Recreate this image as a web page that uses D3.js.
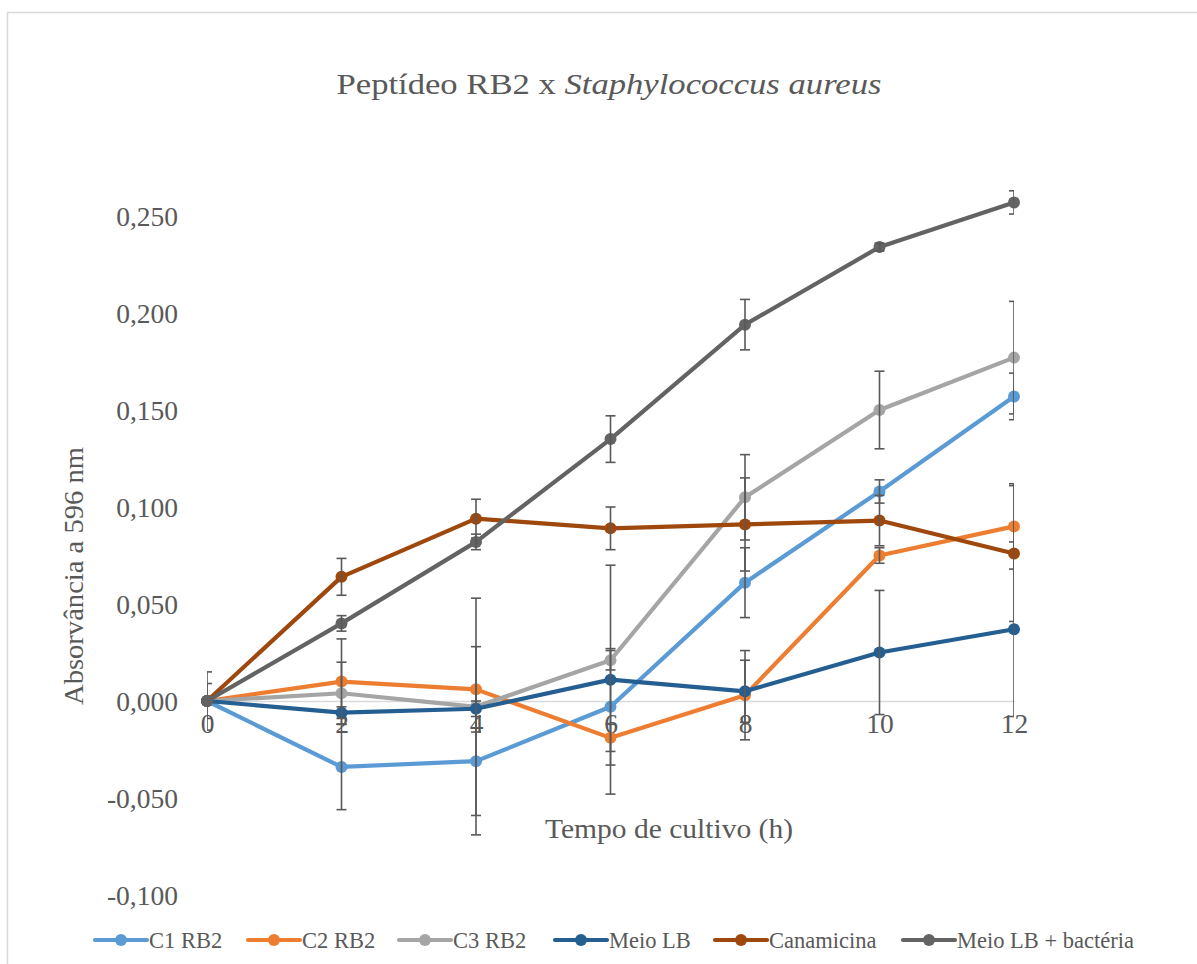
<!DOCTYPE html>
<html>
<head>
<meta charset="utf-8">
<script src="https://cdn.jsdelivr.net/npm/d3@7/dist/d3.min.js"></script>
<style>
  html, body { margin: 0; padding: 0; background: #ffffff; }
  svg { display: block; }
</style>
</head>
<body>
<svg id="chart" width="1197" height="964"></svg>
<script>
// Culture time (h)
const hours = [0, 2, 4, 6, 8, 10, 12];

// Mean absorbance at 596 nm and error (±) per series
const c1Rb2      = [0, -0.034, -0.031, -0.003, 0.061, 0.108, 0.157];
const c1Rb2Err   = [0.009, 0.022, 0.038, 0.030, 0.018, 0.006, 0.012];
const c2Rb2      = [0, 0.010, 0.006, -0.019, 0.003, 0.075, 0.090];
const c2Rb2Err   = [0, 0.022, 0.022, 0.007, 0.023, 0.004, 0.022];
const c3Rb2      = [0, 0.004, -0.003, 0.021, 0.105, 0.150, 0.177];
const c3Rb2Err   = [0, 0.016, 0.056, 0.005, 0.022, 0.020, 0.029];
const meioLb     = [0, -0.006, -0.004, 0.011, 0.005, 0.025, 0.037];
const meioLbErr  = [0.015, 0.003, 0.004, 0.059, 0.016, 0.032, 0.045];
const canamicina    = [0, 0.064, 0.094, 0.089, 0.091, 0.093, 0.076];
const canamicinaErr = [0, 0.0095, 0.010, 0.011, 0.024, 0.013, 0.035];
const meioLbBact    = [0, 0.040, 0.082, 0.135, 0.194, 0.234, 0.257];
const meioLbBactErr = [0, 0.004, 0.004, 0.012, 0.013, 0.002, 0.006];

const seriesNames  = ["C1 RB2", "C2 RB2", "C3 RB2", "Meio LB", "Canamicina", "Meio LB + bactéria"];
const seriesColors = ["#5b9bd5", "#ed7d31", "#a5a5a5", "#255e91", "#9e480e", "#636363"];
const seriesValues = [c1Rb2, c2Rb2, c3Rb2, meioLb, canamicina, meioLbBact];
const seriesErrors = [c1Rb2Err, c2Rb2Err, c3Rb2Err, meioLbErr, canamicinaErr, meioLbBactErr];

const xTicks = [0, 2, 4, 6, 8, 10, 12];
const yTicks = [-0.1, -0.05, 0, 0.05, 0.1, 0.15, 0.2, 0.25];

const FONT = "'Liberation Serif', Tinos, 'Times New Roman', 'DejaVu Serif', serif";
const TEXT_COLOR = "#595959";

const series = seriesNames.map((name, i) => ({
  name,
  color: seriesColors[i],
  points: hours.map((h, j) => ({ x: h, y: seriesValues[i][j], e: seriesErrors[i][j] }))
}));

const svg = d3.select("#chart");

// Chart frame
svg.append("rect")
  .attr("x", 7.5).attr("y", 12.5)
  .attr("width", 1300).attr("height", 1100)
  .attr("fill", "#ffffff")
  .attr("stroke", "#d9d9d9").attr("stroke-width", 1.5);

const x = d3.scaleLinear().domain([0, 12]).range([207, 1014]);
const y = d3.scaleLinear().domain([-0.1, 0.25]).range([895, 216]);

function styleText(sel, size) {
  return sel.attr("font-family", FONT)
    .style("font-family", FONT)
    .attr("font-size", size)
    .style("font-size", size + "px")
    .attr("fill", TEXT_COLOR)
    .style("fill", TEXT_COLOR);
}

// Title
const title = svg.append("text")
  .attr("x", 609).attr("y", 94)
  .attr("text-anchor", "middle")
  .attr("textLength", 545)
  .attr("lengthAdjust", "spacingAndGlyphs");
styleText(title, 30);
title.append("tspan").text("Peptídeo RB2 x ");
title.append("tspan").style("font-style", "italic").text("Staphylococcus aureus");

// Y axis labels (no axis line, no gridlines)
const fmt = v => d3.format(".3f")(v).replace(".", ",").replace("−", "-");
const yAxis = d3.axisLeft(y).tickValues(yTicks).tickSize(0).tickPadding(0).tickFormat(fmt);
const yG = svg.append("g").attr("transform", "translate(178,0)").call(yAxis)
  .attr("font-family", FONT);
yG.select(".domain").remove();
styleText(yG.selectAll("text").attr("x", 0).attr("dy", "0.35em"), 27.5);

// Horizontal axis line at zero with its labels
const xAxis = d3.axisBottom(x).tickValues(xTicks).tickSize(0).tickPadding(0).tickFormat(d3.format("d"));
const xG = svg.append("g").attr("transform", `translate(0,${y(0)})`).call(xAxis)
  .attr("font-family", FONT);
xG.select(".domain").attr("stroke", "#d9d9d9").attr("stroke-width", 1.5);
styleText(xG.selectAll("text").attr("y", 32).attr("dy", "0"), 27.5);

// Axis titles
styleText(svg.append("text")
  .attr("transform", `translate(83,${576}) rotate(-90)`)
  .attr("text-anchor", "middle")
  .attr("textLength", 258)
  .attr("lengthAdjust", "spacingAndGlyphs")
  .text("Absorvância a 596 nm"), 27);

styleText(svg.append("text")
  .attr("x", 669).attr("y", 838)
  .attr("text-anchor", "middle")
  .attr("textLength", 248)
  .attr("lengthAdjust", "spacingAndGlyphs")
  .text("Tempo de cultivo (h)"), 27);

// Error bars are clipped to the plot area
svg.append("clipPath").attr("id", "plotClip")
  .append("rect").attr("x", x(0)).attr("y", 0).attr("width", x(12) - x(0)).attr("height", 964);

const line = d3.line().x(d => x(d.x)).y(d => y(d.y));

series.forEach(s => {
  const g = svg.append("g");
  g.append("path")
    .datum(s.points)
    .attr("d", line)
    .attr("fill", "none")
    .attr("stroke", s.color)
    .attr("stroke-width", 4.2)
    .attr("stroke-linejoin", "round")
    .attr("stroke-linecap", "round");
  g.selectAll("circle")
    .data(s.points)
    .join("circle")
    .attr("cx", d => x(d.x)).attr("cy", d => y(d.y))
    .attr("r", 6)
    .attr("fill", s.color);

  const eb = g.append("g").attr("clip-path", "url(#plotClip)")
    .attr("stroke", "#595959").attr("stroke-width", 1.6).attr("fill", "none");
  const bars = eb.selectAll("g").data(s.points.filter(d => d.e > 0)).join("g");
  bars.append("line")
    .attr("x1", d => x(d.x)).attr("x2", d => x(d.x))
    .attr("y1", d => y(d.y + d.e)).attr("y2", d => y(d.y - d.e));
  bars.append("line")
    .attr("x1", d => x(d.x) - 5).attr("x2", d => x(d.x) + 5)
    .attr("y1", d => y(d.y + d.e)).attr("y2", d => y(d.y + d.e));
  bars.append("line")
    .attr("x1", d => x(d.x) - 5).attr("x2", d => x(d.x) + 5)
    .attr("y1", d => y(d.y - d.e)).attr("y2", d => y(d.y - d.e));
});

// Legend
const legendX = [95, 248, 399, 555, 715, 903];
const legend = svg.append("g").attr("transform", "translate(0,940)");
series.forEach((s, i) => {
  const lg = legend.append("g").attr("transform", `translate(${legendX[i]},0)`);
  lg.append("line").attr("x1", 0).attr("x2", 52).attr("y1", 0).attr("y2", 0)
    .attr("stroke", s.color).attr("stroke-width", 4.2).attr("stroke-linecap", "round");
  lg.append("circle").attr("cx", 26).attr("cy", 0).attr("r", 6).attr("fill", s.color);
  styleText(lg.append("text").attr("x", 54).attr("y", 0).attr("dy", "0.35em").text(s.name), 22.5);
});
</script>
</body>
</html>
